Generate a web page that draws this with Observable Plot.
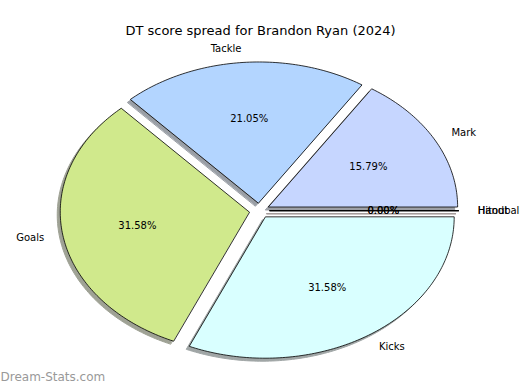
<!DOCTYPE html>
<html>
<head>
<meta charset="utf-8">
<script src="https://cdn.jsdelivr.net/npm/d3@7"></script>
<script src="https://cdn.jsdelivr.net/npm/@observablehq/plot@0.6"></script>
<style>
  html, body { margin: 0; padding: 0; background: #fff; }
  #chart svg { display: block; }
</style>
</head>
<body>
<div id="chart"></div>
<script>
// ---- data ----
const title = "DT score spread for Brandon Ryan (2024)";
const watermark = "Dream-Stats.com";
const categories = ["Mark", "Tackle", "Goals", "Kicks", "Handball", "Hitout"];
const values = [3, 4, 6, 6, 0, 0];
const colors = ["#c6d6ff", "#b3d5ff", "#d0e98c", "#d9ffff", "#ffd9b3", "#f0c0c0"];
const explode = 0.055;

// ---- derived wedge geometry (unit radius; scales stretch to ellipse) ----
const total = d3.sum(values);
let acc = 0;
const slices = categories.map((name, i) => {
  const a0 = acc / total * 360;
  acc += values[i];
  const a1 = acc / total * 360;
  const m = (a0 + a1) / 2 * Math.PI / 180;
  const ox = explode * Math.cos(m), oy = explode * Math.sin(m);
  return {name, i, a0, a1, m, ox, oy, pct: values[i] / total * 100, color: colors[i]};
});

const shade = c => {
  const r = d3.rgb(c);
  const f = v => 255 - 0.5 * (255 - 0.3 * v);
  return d3.rgb(f(r.r), f(r.g), f(r.b)).formatHex();
};

const pts = [];
for (const s of slices) {
  pts.push({slice: s.i, x: s.ox, y: s.oy, color: s.color, shadow: shade(s.color)});
  const n = Math.max(2, Math.ceil((s.a1 - s.a0) / 1));
  for (let k = 0; k <= n; k++) {
    const a = (s.a0 + (s.a1 - s.a0) * k / n) * Math.PI / 180;
    pts.push({slice: s.i, x: s.ox + Math.cos(a), y: s.oy + Math.sin(a), color: s.color, shadow: shade(s.color)});
  }
}

const labels = slices.map(s => ({
  text: s.name,
  x: s.ox + 1.1 * Math.cos(s.m),
  y: s.oy + 1.1 * Math.sin(s.m),
  anchor: Math.cos(s.m) > 0 ? "start" : "end"
}));
const pcts = slices.map(s => ({
  text: s.pct.toFixed(2) + "%",
  x: s.ox + 0.6 * Math.cos(s.m),
  y: s.oy + 0.6 * Math.sin(s.m)
}));

const W = 520, H = 390, cx = 259, cy = 210.2, rx = 189, ry = 141;
const font = "DejaVu Sans, Liberation Sans, sans-serif";

const chart = Plot.plot({
  width: W, height: H,
  margin: 0,
  style: {fontFamily: font, background: "#fff"},
  x: {domain: [-cx / rx, (W - cx) / rx], axis: null},
  y: {domain: [(cy - H) / ry, cy / ry], axis: null},
  color: {type: "identity"},
  marks: [
    // shadows
    Plot.line(pts, {x: "x", y: "y", z: "slice", fill: "shadow", stroke: "shadow", strokeWidth: 1,
      curve: "linear-closed", dx: -3, dy: 3}),
    // wedges
    Plot.line(pts, {x: "x", y: "y", z: "slice", fill: "color", stroke: "#000", strokeWidth: 0.8,
      curve: "linear-closed", strokeLinejoin: "miter"}),
    Plot.text(labels.filter(d => d.anchor === "start"), {x: "x", y: "y", text: "text", textAnchor: "start",
      fontSize: 10, fill: "#000"}),
    Plot.text(labels.filter(d => d.anchor === "end"), {x: "x", y: "y", text: "text", textAnchor: "end",
      fontSize: 10, fill: "#000"}),
    Plot.text(pcts, {x: "x", y: "y", text: "text", fontSize: 10, fill: "#000"}),
    Plot.text([title], {frameAnchor: "top", dy: 25, fontSize: 13, fill: "#000"}),
    Plot.text([watermark], {frameAnchor: "bottom-left", textAnchor: "start", dy: -10, dx: 0,
      fontSize: 12, fill: "#999999"})
  ]
});
document.getElementById("chart").appendChild(chart);
</script>
</body>
</html>
